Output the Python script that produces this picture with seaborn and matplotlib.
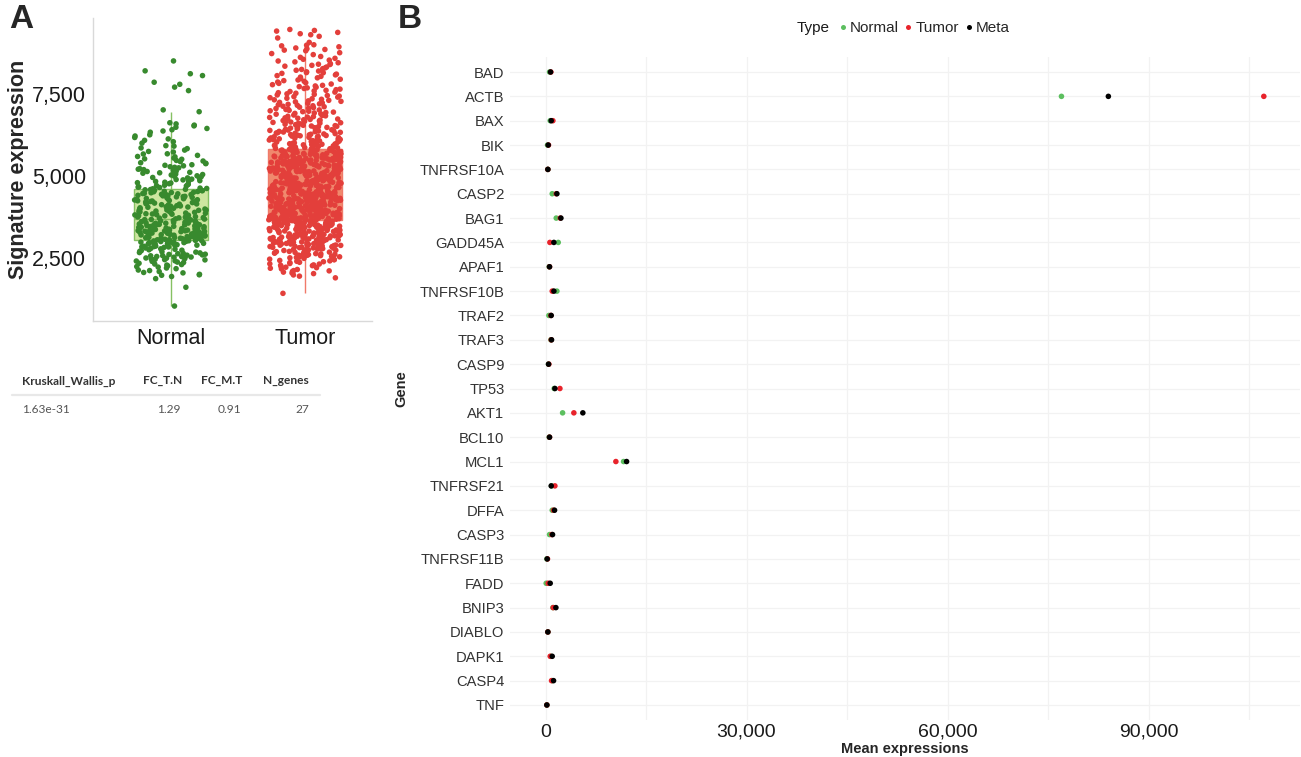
import numpy as np
import pandas as pd
import matplotlib
matplotlib.use("Agg")
import matplotlib.pyplot as plt
from matplotlib.lines import Line2D
from matplotlib.ticker import FuncFormatter
import seaborn as sns

# ---------------- Panel A data (signature expression per sample) ----------------
groups_A = ["Normal", "Tumor"]

normal_expr = [
    1037, 1610, 1872, 1938, 1990, 2004, 2061, 2118, 2135, 2197, 2241, 2263, 2302, 2318, 2364, 2377, 2409, 2415, 2438, 2452,
    2461, 2483, 2497, 2502, 2526, 2531, 2548, 2569, 2573, 2596, 2618, 2642, 2657, 2681, 2693, 2724, 2739, 2768, 2781, 2796,
    2824, 2838, 2851, 2866, 2879, 2893, 2907, 2921, 2936, 2944, 2958, 2969, 2977, 2986, 2995, 3004, 3016, 3027, 3036, 3047,
    1975, 2048, 2089, 2176, 2224, 2287, 2341, 2398, 2444, 2471, 2512, 2544, 2587, 2609, 2633, 2668, 2709, 2752, 2807, 2843,
    2859, 2902, 2928, 2949, 2972, 2989, 3009, 3022, 3033, 3041,
    3052, 3061, 3068, 3077, 3089, 3094, 3106, 3113, 3125, 3131, 3142, 3156, 3163, 3171, 3188, 3196, 3204, 3219, 3227, 3235,
    3248, 3256, 3269, 3274, 3286, 3293, 3305, 3318, 3324, 3337, 3345, 3352, 3366, 3378, 3385, 3397, 3404, 3417, 3423, 3436,
    3448, 3455, 3467, 3474, 3489, 3496, 3508, 3515, 3527, 3538, 3546, 3559, 3567, 3578, 3589, 3602, 3617, 3634, 3651, 3672,
    3057, 3072, 3099, 3119, 3148, 3167, 3192, 3213, 3241, 3262, 3281, 3311, 3331, 3359, 3371, 3391, 3411, 3441, 3461, 3482,
    3502, 3521, 3542, 3563, 3584, 3608, 3625, 3642, 3660, 3677,
    3688, 3702, 3719, 3733, 3748, 3761, 3779, 3794, 3806, 3822, 3837, 3851, 3866, 3879, 3893, 3908, 3924, 3941, 3955, 3968,
    3986, 4003, 4018, 4032, 4049, 4063, 4081, 4096, 4112, 4127, 4143, 4158, 4176, 4191, 4207, 4224, 4239, 4253, 4271, 4286,
    4302, 4318, 4333, 4349, 4366, 4381, 4397, 4412, 4428, 4443, 4459, 4474, 4491, 4506, 4522, 4537, 4553, 4568, 4581, 4596,
    3695, 3726, 3755, 3787, 3815, 3844, 3872, 3901, 3933, 3962, 3994, 4025, 4056, 4088, 4119, 4151, 4183, 4214, 4246, 4278,
    4309, 4341, 4373, 4404, 4436, 4467, 4498, 4529, 4561, 4590,
    4612, 4633, 4651, 4674, 4698, 4719, 4741, 4766, 4788, 4812, 4837, 4859, 4883, 4906, 4932, 4957, 4981, 5008, 5033, 5061,
    5087, 5114, 5139, 5168, 5196, 5223, 5251, 5284, 5312, 5345, 5378, 5406, 5441, 5477, 5512, 5548, 5586, 5631, 5679, 5733,
    5792, 5858, 5927, 6004, 6089, 6176, 6258, 6337, 6412, 6488, 6553, 6625, 6962, 7018, 7605, 7712, 7798, 7861, 8063, 8120,
    8208, 8510,
    4622, 4663, 4708, 4752, 4798, 4846, 4894, 4944, 4994, 5047, 5099, 5153, 5209, 5267, 5328, 5391, 5458, 5525, 5597, 5672,
    5751, 5836, 5912, 6048, 6133, 6221, 6374, 6451, 6530, 6590,
]

tumor_expr = [
    1424, 1897, 1948, 2026, 2071, 2093, 2118, 2152, 2189, 2207, 2243, 2268, 2291, 2317, 2334, 2362, 2388, 2401, 2427, 2449,
    2466, 2482, 2507, 2519, 2538, 2561, 2574, 2589, 2612, 2628, 2641, 2659, 2672, 2688, 2703, 2716, 2731, 2747, 2758, 2774,
    2789, 2801, 2818, 2832, 2846, 2857, 2871, 2886, 2898, 2912, 2927, 2939, 2952, 2966, 2978, 2991, 3003, 3017, 3028, 3041,
    3053, 3066, 3078, 3089, 3102, 3114, 3126, 3137, 3149, 3161, 3172, 3184, 3196, 3207, 3219, 3231, 3242, 3254, 3265, 3277,
    3288, 3299, 3311, 3322, 3333, 3344, 3356, 3367, 3378, 3389, 3401, 3412, 3423, 3434, 3445, 3456, 3467, 3478, 3489, 3499,
    3510, 3521, 3531, 3542, 3552, 3563, 3573, 3584, 3594, 3604, 3613, 3621, 3628, 3634, 3640, 3645, 3649, 3653, 3656, 3659,
    1985, 2044, 2110, 2170, 2221, 2280, 2325, 2371, 2414, 2455, 2490, 2527, 2553, 2582, 2604, 2635, 2650, 2681, 2695, 2709,
    2738, 2752, 2766, 2783, 2795, 2809, 2826, 2839, 2851, 2864, 2879, 2892, 2905, 2918, 2933, 2946, 2959, 2971, 2984, 2997,
    3010, 3023, 3035, 3047, 3060, 3072, 3084, 3096, 3108, 3120, 3131, 3143, 3155, 3167, 3178, 3190, 3201, 3213, 3224, 3236,
    3247, 3259, 3270, 3282, 3293, 3305, 3316, 3327, 3339, 3350, 3361, 3372, 3384, 3395, 3406, 3417, 3428, 3439, 3450, 3461,
    3472, 3483, 3494, 3505, 3516, 3527, 3537, 3548, 3558, 3569, 3579, 3589, 3599, 3608, 3617, 3625, 3632, 3639, 3647, 3655,
    3667, 3674, 3686, 3691, 3703, 3709, 3718, 3726, 3735, 3741, 3752, 3758, 3767, 3776, 3783, 3791, 3802, 3808, 3817, 3824,
    3833, 3842, 3849, 3857, 3866, 3871, 3882, 3888, 3897, 3906, 3912, 3921, 3929, 3937, 3946, 3953, 3961, 3968, 3977, 3985,
    3994, 4001, 4009, 4018, 4026, 4034, 4043, 4049, 4058, 4066, 4075, 4082, 4091, 4099, 4107, 4116, 4123, 4131, 4140, 4148,
    4156, 4165, 4172, 4181, 4189, 4197, 4206, 4213, 4222, 4230, 4238, 4247, 4254, 4263, 4271, 4279, 4288, 4295, 4304, 4312,
    4320, 4329, 4336, 4345, 4353, 4361, 4370, 4377, 4386, 4394, 4402, 4411, 4418, 4427, 4435, 4443, 4452, 4459, 4468, 4476,
    4484, 4493, 4500, 4509, 4517, 4525, 4534, 4541, 4550, 4558, 4566, 4575, 4582, 4591, 4599, 4607, 4616, 4623, 4632, 4641,
    3663, 3678, 3684, 3697, 3711, 3721, 3731, 3744, 3754, 3763, 3771, 3787, 3795, 3811, 3820, 3828, 3838, 3852, 3860, 3875,
    3886, 3894, 3903, 3917, 3925, 3933, 3942, 3958, 3966, 3974, 3989, 3997, 4006, 4014, 4029, 4038, 4046, 4055, 4069, 4078,
    4087, 4095, 4111, 4119, 4128, 4136, 4152, 4160, 4169, 4177, 4193, 4201, 4210, 4218, 4234, 4242, 4251, 4259, 4275, 4283,
    4292, 4300, 4316, 4324, 4333, 4341, 4357, 4365, 4374, 4382, 4398, 4406, 4415, 4423, 4439, 4447, 4456, 4464, 4480, 4488,
    4497, 4505, 4521, 4529, 4538, 4546, 4562, 4570, 4579, 4587, 4603, 4611, 4620, 4628, 4636, 4644, 4647, 3701, 3850, 4002,
    4652, 4663, 4671, 4682, 4692, 4701, 4712, 4721, 4733, 4742, 4751, 4763, 4772, 4781, 4793, 4802, 4811, 4823, 4832, 4841,
    4853, 4862, 4872, 4883, 4892, 4902, 4913, 4922, 4932, 4943, 4952, 4962, 4973, 4982, 4992, 5003, 5012, 5022, 5033, 5042,
    5052, 5063, 5072, 5082, 5093, 5102, 5112, 5123, 5132, 5142, 5153, 5162, 5172, 5183, 5192, 5202, 5213, 5222, 5232, 5243,
    5252, 5262, 5273, 5282, 5292, 5303, 5312, 5322, 5333, 5342, 5352, 5363, 5372, 5382, 5393, 5402, 5412, 5423, 5432, 5442,
    5453, 5462, 5472, 5483, 5492, 5502, 5513, 5522, 5532, 5543, 5552, 5562, 5573, 5582, 5592, 5603, 5612, 5622, 5633, 5642,
    5652, 5663, 5672, 5682, 5693, 5702, 5712, 5723, 5732, 5742, 5753, 5762, 5772, 5783, 5792, 5802, 5813, 5822, 5833, 5843,
    4657, 4668, 4677, 4688, 4697, 4706, 4717, 4728, 4738, 4747, 4757, 4768, 4778, 4787, 4797, 4808, 4817, 4828, 4837, 4848,
    4857, 4868, 4877, 4888, 4897, 4908, 4917, 4928, 4937, 4948, 4957, 4968, 4977, 4988, 4997, 5008, 5017, 5028, 5037, 5048,
    5057, 5068, 5077, 5088, 5097, 5108, 5117, 5128, 5137, 5148, 5157, 5168, 5177, 5188, 5197, 5208, 5217, 5228, 5237, 5248,
    5257, 5268, 5277, 5288, 5297, 5308, 5317, 5328, 5337, 5348, 5357, 5368, 5377, 5388, 5397, 5408, 5417, 5428, 5437, 5448,
    5457, 5468, 5477, 5488, 5497, 5508, 5517, 5528, 5537, 5548, 5557, 5568, 5577, 5588, 5597, 5608, 5617, 5628, 5637, 5648,
    5668, 5688, 5708, 5728, 5748, 5768, 5788, 5808, 5828, 5846,
    5861, 5878, 5894, 5911, 5927, 5944, 5961, 5977, 5994, 6012, 6029, 6046, 6064, 6081, 6099, 6117, 6135, 6153, 6171, 6190,
    6208, 6227, 6246, 6265, 6284, 6303, 6323, 6342, 6362, 6382, 6402, 6422, 6443, 6463, 6484, 6505, 6526, 6548, 6569, 6591,
    6613, 6636, 6658, 6681, 6704, 6727, 6751, 6775, 6799, 6823, 6848, 6873, 6898, 6924, 6950, 6976, 7003, 7030, 7058, 7086,
    7114, 7143, 7172, 7202, 7232, 7262, 7293, 7325, 7357, 7389, 7422, 7456, 7490, 7525, 7560, 7596, 7633, 7670, 7708, 7747,
    7786, 7826, 7867, 7909, 7952, 7995, 8040, 8085, 8131, 8150, 8178, 8226, 8275, 8325, 8376, 8410, 8428, 8481, 8535, 8560,
    8590, 8646, 8703, 8761, 8820, 8840, 8880, 8905, 8941, 8970, 9003, 9076, 9210, 9260, 9310, 9340, 9380, 9420, 9440, 9470,
    5868, 5885, 5903, 5919, 5936, 5952, 5969, 5985, 6003, 6020, 6038, 6055, 6073, 6090, 6108, 6126, 6144, 6162, 6181, 6199,
    6218, 6237, 6256, 6275, 6294, 6313, 6333, 6352, 6372, 6392, 6412, 6433, 6453, 6474, 6495, 6516, 6537, 6559, 6580, 6602,
    6625, 6647, 6670, 6693, 6716, 6739, 6763, 6787, 6811, 6836, 6861, 6886, 6911, 6937, 6963, 6990, 7017, 7044, 7072, 7100,
    7129, 7158, 7187, 7217, 7247, 7278, 7309, 7341, 7373, 7406, 7439, 7473, 7507, 7542, 7578, 7614, 7651, 7689, 7727, 7766,
    7806, 7846, 7888, 7930, 7973, 8017, 8062, 8108, 8155, 8202, 8251, 8300, 8350, 8402, 8455, 8508, 8620, 8735, 8860, 8990,
]

yticks_A = [2500, 5000, 7500]

# ---------------- Table under panel A ----------------
table_headers = ["Kruskall_Wallis_p", "FC_T.N", "FC_M.T", "N_genes"]
table_values = ["1.63e-31", "1.29", "0.91", "27"]

# ---------------- Panel B data (mean expression per gene) ----------------
genes = ["BAD", "ACTB", "BAX", "BIK", "TNFRSF10A", "CASP2", "BAG1", "GADD45A", "APAF1",
         "TNFRSF10B", "TRAF2", "TRAF3", "CASP9", "TP53", "AKT1", "BCL10", "MCL1",
         "TNFRSF21", "DFFA", "CASP3", "TNFRSF11B", "FADD", "BNIP3", "DIABLO", "DAPK1",
         "CASP4", "TNF"]
mean_normal = [600, 77000, 700, 300, 350, 1000, 1600, 1900, 550, 1700, 500, 800, 450,
               1300, 2550, 550, 11650, 900, 1000, 600, 200, 100, 1100, 350, 800, 1000, 200]
mean_tumor = [800, 107200, 1100, 450, 350, 1600, 2200, 650, 600, 1000, 800, 850, 500,
              2150, 4230, 600, 10500, 1400, 1200, 950, 300, 400, 1150, 350, 700, 900, 200]
mean_meta = [750, 84000, 850, 400, 350, 1700, 2300, 1250, 600, 1250, 850, 900, 450,
             1400, 5570, 600, 12100, 850, 1350, 1050, 250, 700, 1550, 350, 1000, 1200, 200]
types_B = ["Normal", "Tumor", "Meta"]
xticks_B = [0, 30000, 60000, 90000]

# ---------------- Styling ----------------
sns.set_style("white")
plt.rcParams["font.family"] = ["Liberation Sans", "DejaVu Sans"]

W, H = 1301, 757
fig = plt.figure(figsize=(W / 100, H / 100), dpi=100)

def fx(px):
    return px / W

def fy(py):
    return 1 - py / H

# ---------------- Panel A ----------------
axA = fig.add_axes([fx(93), fy(320.7), fx(372 - 93), (320.7 - 18.3) / H])
dfA = pd.DataFrame({
    "group": ["Normal"] * len(normal_expr) + ["Tumor"] * len(tumor_expr),
    "value": normal_expr + tumor_expr,
})
box_fill = {"Normal": "#cde6a0", "Tumor": "#f0896d"}
box_edge = {"Normal": "#86c163", "Tumor": "#f07a6a"}
pt_col = {"Normal": "#388a2e", "Tumor": "#e33f3b"}

for g in groups_A:
    sub = dfA[dfA["group"] == g]
    sns.boxplot(data=sub, x="group", y="value", order=groups_A, color=box_fill[g],
                linecolor=box_edge[g], width=0.55, showfliers=False, showcaps=False,
                linewidth=1.0, saturation=1, ax=axA)

np.random.seed(3)
sns.stripplot(data=dfA, x="group", y="value", hue="group", order=groups_A,
              palette=pt_col, jitter=0.27, size=4.0, linewidth=0, legend=False,
              ax=axA, zorder=3)

axA.set_xlim(-0.58, 1.5)
axA.set_ylim(590, 9810)
axA.set_yticks(yticks_A)
axA.yaxis.set_major_formatter(FuncFormatter(lambda v, p: f"{int(v):,}"))
axA.set_xlabel("")
axA.set_ylabel("Signature expression", fontsize=15.5, fontweight="bold", labelpad=2)
axA.tick_params(axis="both", labelsize=15.5, length=3.5, width=0.8, color="#bbbbbb",
                pad=1.5, labelcolor="#1a1a1a")
for s in ["top", "right"]:
    axA.spines[s].set_visible(False)
for s in ["left", "bottom"]:
    axA.spines[s].set_color("#d9d9d9")
    axA.spines[s].set_linewidth(1.0)

# ---------------- Table text ----------------
ty_head, ty_val = fy(381), fy(410)
fig.add_artist(Line2D([fx(12), fx(320)], [fy(395), fy(395)], color="#e8e8e8", lw=1.6))
tfont = ["Lato", "DejaVu Sans"]
xs_head = [(22, "left"), (182, "right"), (242, "right"), (309, "right")]
xs_val = [(22, "left"), (181, "right"), (241, "right"), (309, "right")]
for (xp, ha), t in zip(xs_head, table_headers):
    fig.text(fx(xp), ty_head, t, ha=ha, va="center", fontsize=8.6, fontweight="bold",
             color="#333333", family=tfont)
for (xp, ha), t in zip(xs_val, table_values):
    fig.text(fx(xp), ty_val, t, ha=ha, va="center", fontsize=8.6, color="#555555",
             family=tfont)

# ---------------- Panel B ----------------
axB = fig.add_axes([fx(510), fy(719.6), fx(1300 - 510), (719.6 - 57.4) / H])
dfB = pd.DataFrame({
    "gene": genes * 3,
    "value": mean_normal + mean_tumor + mean_meta,
    "Type": ["Normal"] * len(genes) + ["Tumor"] * len(genes) + ["Meta"] * len(genes),
})
palB = {"Normal": "#5cbf5f", "Tumor": "#e8232b", "Meta": "#000000"}
sns.scatterplot(data=dfB, x="value", y="gene", hue="Type", hue_order=types_B,
                palette=palB, s=16, linewidth=0, legend=False, ax=axB, zorder=3)

axB.set_xlim(-5300, 112600)
axB.set_ylim(len(genes) - 0.4, -0.6)
axB.set_xticks(xticks_B)
axB.set_xticks([15000, 45000, 75000, 105000], minor=True)
axB.xaxis.set_major_formatter(FuncFormatter(lambda v, p: f"{int(v):,}"))
axB.grid(True, which="both", color="#f2f2f2", lw=0.9)
axB.set_axisbelow(True)
for s in axB.spines.values():
    s.set_visible(False)
axB.tick_params(axis="both", which="both", length=0)
axB.tick_params(axis="x", labelsize=14, pad=3, labelcolor="#1a1a1a")
axB.tick_params(axis="y", labelsize=10.6, pad=4, labelcolor="#333333")
axB.set_xlabel("Mean expressions", fontsize=10.5, fontweight="bold", labelpad=1)
axB.set_ylabel("Gene", fontsize=10.5, fontweight="bold")
axB.yaxis.set_label_coords(-0.129, 0.5)

# legend on top
handles = [Line2D([0], [0], marker="o", linestyle="", markersize=3.6,
                  markerfacecolor=palB[t], markeredgewidth=0) for t in types_B]
fig.text(fx(797), fy(28), "Type", ha="left", va="center", fontsize=11, color="#1a1a1a")
fig.legend(handles, types_B, loc="center left", bbox_to_anchor=(fx(838), fy(28)),
           ncol=3, frameon=False, fontsize=11, handlelength=0.6, handletextpad=0.15,
           columnspacing=0.35, borderpad=0, borderaxespad=0)

# panel letters
fig.text(fx(9), fy(20), "A", fontsize=24, fontweight="bold", ha="left", va="center")
fig.text(fx(398), fy(20), "B", fontsize=24, fontweight="bold", ha="left", va="center")

fig.savefig("out.png", dpi=100)
